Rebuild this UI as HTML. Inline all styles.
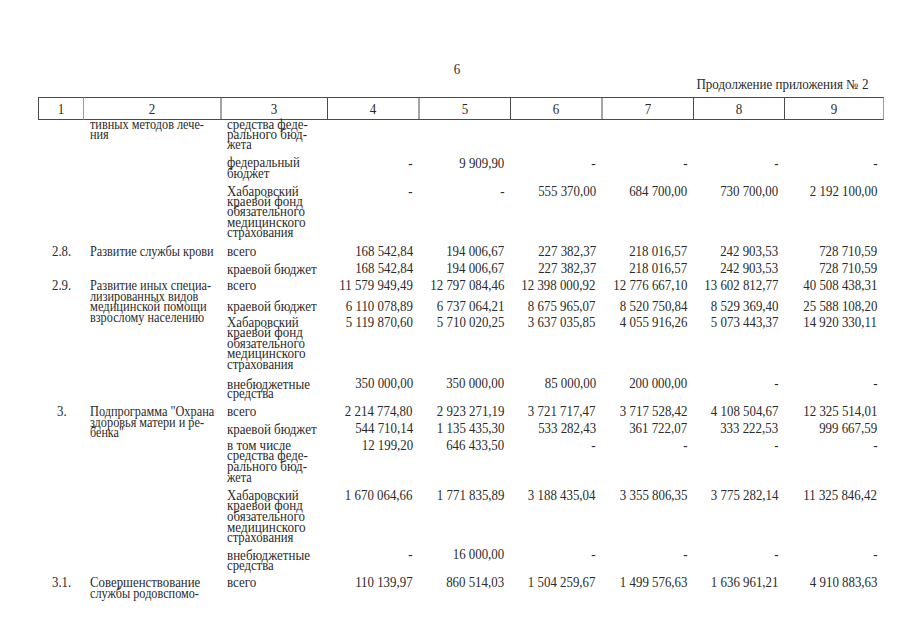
<!DOCTYPE html>
<html><head><meta charset="utf-8"><style>
html,body{margin:0;padding:0;background:#fff;}
body{width:905px;height:640px;position:relative;overflow:hidden;font-family:"Liberation Serif",serif;color:#2a2a2a;}
.t{position:absolute;white-space:nowrap;font-size:13.8px;line-height:normal;}
.l{transform-origin:0 0;}
.r{transform-origin:100% 0;}
.c{transform-origin:50% 0;}
.c2{transform:scaleX(0.888);}
.c3{transform:scaleX(0.93);}
.c3n{transform:scaleX(0.934);}
.num{transform:scaleX(0.933);}
.hdr{transform:scaleX(0.943);}
.c1{transform:scaleX(0.93);}
svg{position:absolute;left:0;top:0;}
</style></head><body>

<svg width="905" height="640">
<line x1="38" y1="97.5" x2="884" y2="97.5" stroke="#4a4a4a" stroke-width="1"/>
<line x1="38" y1="119.5" x2="884" y2="119.5" stroke="#4a4a4a" stroke-width="1"/>
<line x1="38.5" y1="97.5" x2="38.5" y2="119.5" stroke="#4a4a4a" stroke-width="1"/>
<line x1="83.5" y1="97.5" x2="83.5" y2="119.5" stroke="#9a9a9a" stroke-width="1"/>
<line x1="221" y1="97.5" x2="221" y2="119.5" stroke="#4a4a4a" stroke-width="1"/>
<line x1="327.5" y1="97.5" x2="327.5" y2="119.5" stroke="#4a4a4a" stroke-width="1"/>
<line x1="419" y1="97.5" x2="419" y2="119.5" stroke="#4a4a4a" stroke-width="1"/>
<line x1="510.5" y1="97.5" x2="510.5" y2="119.5" stroke="#4a4a4a" stroke-width="1"/>
<line x1="602" y1="97.5" x2="602" y2="119.5" stroke="#4a4a4a" stroke-width="1"/>
<line x1="693.5" y1="97.5" x2="693.5" y2="119.5" stroke="#4a4a4a" stroke-width="1"/>
<line x1="784.5" y1="97.5" x2="784.5" y2="119.5" stroke="#4a4a4a" stroke-width="1"/>
<line x1="883.5" y1="97.5" x2="883.5" y2="119.5" stroke="#9a9a9a" stroke-width="1"/>
</svg>
<div class="t c hdr" style="left:357.00px;width:200px;text-align:center;top:61.70px">6</div>
<div class="t r hdr" style="right:37.00px;top:77.30px">Продолжение приложения № 2</div>
<div class="t c hdr" style="left:-39.00px;width:200px;text-align:center;top:101.70px">1</div>
<div class="t c hdr" style="left:52.25px;width:200px;text-align:center;top:101.70px">2</div>
<div class="t c hdr" style="left:174.25px;width:200px;text-align:center;top:101.70px">3</div>
<div class="t c hdr" style="left:273.25px;width:200px;text-align:center;top:101.70px">4</div>
<div class="t c hdr" style="left:364.75px;width:200px;text-align:center;top:101.70px">5</div>
<div class="t c hdr" style="left:456.25px;width:200px;text-align:center;top:101.70px">6</div>
<div class="t c hdr" style="left:547.75px;width:200px;text-align:center;top:101.70px">7</div>
<div class="t c hdr" style="left:639.00px;width:200px;text-align:center;top:101.70px">8</div>
<div class="t c hdr" style="left:734.00px;width:200px;text-align:center;top:101.70px">9</div>
<div class="t l c2" style="left:90.30px;top:117.20px;transform:scaleX(0.8875);">тивных методов лече-</div>
<div class="t l c2" style="left:90.30px;top:127.40px;">ния</div>
<div class="t l c3" style="left:226.80px;top:117.20px;transform:scaleX(0.9314);">средства феде-</div>
<div class="t l c3" style="left:226.80px;top:127.20px;transform:scaleX(0.9464);">рального бюд-</div>
<div class="t l c3" style="left:226.80px;top:137.20px;transform:scaleX(0.8857);">жета</div>
<div class="t l c3" style="left:226.80px;top:155.00px;transform:scaleX(0.9282);">федеральный</div>
<div class="t l c3" style="left:226.80px;top:165.50px;transform:scaleX(0.9409);">бюджет</div>
<div class="t r num" style="right:492.20px;top:155.50px">-</div>
<div class="t r num" style="right:400.70px;top:155.50px">9 909,90</div>
<div class="t r num" style="right:309.20px;top:155.50px">-</div>
<div class="t r num" style="right:217.70px;top:155.50px">-</div>
<div class="t r num" style="right:126.70px;top:155.50px">-</div>
<div class="t r num" style="right:27.70px;top:155.50px">-</div>
<div class="t l c3" style="left:226.80px;top:183.50px;transform:scaleX(0.9303);">Хабаровский</div>
<div class="t l c3" style="left:226.80px;top:193.85px;transform:scaleX(0.9443);">краевой фонд</div>
<div class="t l c3" style="left:226.80px;top:204.20px;transform:scaleX(0.9386);">обязательного</div>
<div class="t l c3" style="left:226.80px;top:214.55px;transform:scaleX(0.9543);">медицинского</div>
<div class="t l c3" style="left:226.80px;top:224.90px;transform:scaleX(0.9208);">страхования</div>
<div class="t r num" style="right:492.20px;top:183.50px">-</div>
<div class="t r num" style="right:400.70px;top:183.50px">-</div>
<div class="t r num" style="right:309.20px;top:183.50px">555 370,00</div>
<div class="t r num" style="right:217.70px;top:183.50px">684 700,00</div>
<div class="t r num" style="right:126.70px;top:183.50px">730 700,00</div>
<div class="t r num" style="right:27.70px;top:183.50px">2 192 100,00</div>
<div class="t l c1" style="left:51.50px;top:244.20px;">2.8.</div>
<div class="t l c2" style="left:90.30px;top:244.20px;transform:scaleX(0.8870);">Развитие службы крови</div>
<div class="t l c3" style="left:226.80px;top:244.20px;transform:scaleX(0.9433);">всего</div>
<div class="t r num" style="right:492.20px;top:243.90px">168 542,84</div>
<div class="t r num" style="right:400.70px;top:243.90px">194 006,67</div>
<div class="t r num" style="right:309.20px;top:243.90px">227 382,37</div>
<div class="t r num" style="right:217.70px;top:243.90px">218 016,57</div>
<div class="t r num" style="right:126.70px;top:243.90px">242 903,53</div>
<div class="t r num" style="right:27.70px;top:243.90px">728 710,59</div>
<div class="t l c3n" style="left:226.80px;top:261.70px;transform:scaleX(0.9415);">краевой бюджет</div>
<div class="t r num" style="right:492.20px;top:261.20px">168 542,84</div>
<div class="t r num" style="right:400.70px;top:261.20px">194 006,67</div>
<div class="t r num" style="right:309.20px;top:261.20px">227 382,37</div>
<div class="t r num" style="right:217.70px;top:261.20px">218 016,57</div>
<div class="t r num" style="right:126.70px;top:261.20px">242 903,53</div>
<div class="t r num" style="right:27.70px;top:261.20px">728 710,59</div>
<div class="t l c1" style="left:51.50px;top:278.40px;">2.9.</div>
<div class="t l c2" style="left:90.30px;top:278.40px;transform:scaleX(0.8925);">Развитие иных специа-</div>
<div class="t l c2" style="left:90.30px;top:288.90px;transform:scaleX(0.8877);">лизированных видов</div>
<div class="t l c2" style="left:90.30px;top:299.40px;transform:scaleX(0.9055);">медицинской помощи</div>
<div class="t l c2" style="left:90.30px;top:309.90px;transform:scaleX(0.8859);">взрослому населению</div>
<div class="t l c3" style="left:226.80px;top:278.20px;transform:scaleX(0.9433);">всего</div>
<div class="t r num" style="right:492.20px;top:278.00px">11 579 949,49</div>
<div class="t r num" style="right:400.70px;top:278.00px">12 797 084,46</div>
<div class="t r num" style="right:309.20px;top:278.00px">12 398 000,92</div>
<div class="t r num" style="right:217.70px;top:278.00px">12 776 667,10</div>
<div class="t r num" style="right:126.70px;top:278.00px">13 602 812,77</div>
<div class="t r num" style="right:27.70px;top:278.00px">40 508 438,31</div>
<div class="t l c3n" style="left:226.80px;top:299.00px;transform:scaleX(0.9415);">краевой бюджет</div>
<div class="t r num" style="right:492.20px;top:298.50px">6 110 078,89</div>
<div class="t r num" style="right:400.70px;top:298.50px">6 737 064,21</div>
<div class="t r num" style="right:309.20px;top:298.50px">8 675 965,07</div>
<div class="t r num" style="right:217.70px;top:298.50px">8 520 750,84</div>
<div class="t r num" style="right:126.70px;top:298.50px">8 529 369,40</div>
<div class="t r num" style="right:27.70px;top:298.50px">25 588 108,20</div>
<div class="t l c3" style="left:226.80px;top:314.50px;transform:scaleX(0.9303);">Хабаровский</div>
<div class="t l c3" style="left:226.80px;top:325.10px;transform:scaleX(0.9443);">краевой фонд</div>
<div class="t l c3" style="left:226.80px;top:335.70px;transform:scaleX(0.9386);">обязательного</div>
<div class="t l c3" style="left:226.80px;top:346.30px;transform:scaleX(0.9543);">медицинского</div>
<div class="t l c3" style="left:226.80px;top:356.90px;transform:scaleX(0.9208);">страхования</div>
<div class="t r num" style="right:492.20px;top:314.50px">5 119 870,60</div>
<div class="t r num" style="right:400.70px;top:314.50px">5 710 020,25</div>
<div class="t r num" style="right:309.20px;top:314.50px">3 637 035,85</div>
<div class="t r num" style="right:217.70px;top:314.50px">4 055 916,26</div>
<div class="t r num" style="right:126.70px;top:314.50px">5 073 443,37</div>
<div class="t r num" style="right:27.70px;top:314.50px">14 920 330,11</div>
<div class="t l c3" style="left:226.80px;top:376.70px;transform:scaleX(0.9437);">внебюджетные</div>
<div class="t l c3" style="left:226.80px;top:386.30px;transform:scaleX(0.9220);">средства</div>
<div class="t r num" style="right:492.20px;top:376.00px">350 000,00</div>
<div class="t r num" style="right:400.70px;top:376.00px">350 000,00</div>
<div class="t r num" style="right:309.20px;top:376.00px">85 000,00</div>
<div class="t r num" style="right:217.70px;top:376.00px">200 000,00</div>
<div class="t r num" style="right:126.70px;top:376.00px">-</div>
<div class="t r num" style="right:27.70px;top:376.00px">-</div>
<div class="t l c1" style="left:56.50px;top:404.00px;">3.</div>
<div class="t l c2" style="left:90.30px;top:404.30px;transform:scaleX(0.8913);">Подпрограмма &quot;Охрана</div>
<div class="t l c2" style="left:90.30px;top:414.75px;transform:scaleX(0.8890);">здоровья матери и ре-</div>
<div class="t l c2" style="left:90.30px;top:425.20px;transform:scaleX(0.8784);">бенка&quot;</div>
<div class="t l c3" style="left:226.80px;top:403.90px;transform:scaleX(0.9433);">всего</div>
<div class="t r num" style="right:492.20px;top:403.70px">2 214 774,80</div>
<div class="t r num" style="right:400.70px;top:403.70px">2 923 271,19</div>
<div class="t r num" style="right:309.20px;top:403.70px">3 721 717,47</div>
<div class="t r num" style="right:217.70px;top:403.70px">3 717 528,42</div>
<div class="t r num" style="right:126.70px;top:403.70px">4 108 504,67</div>
<div class="t r num" style="right:27.70px;top:403.70px">12 325 514,01</div>
<div class="t l c3n" style="left:226.80px;top:421.50px;transform:scaleX(0.9415);">краевой бюджет</div>
<div class="t r num" style="right:492.20px;top:421.00px">544 710,14</div>
<div class="t r num" style="right:400.70px;top:421.00px">1 135 435,30</div>
<div class="t r num" style="right:309.20px;top:421.00px">533 282,43</div>
<div class="t r num" style="right:217.70px;top:421.00px">361 722,07</div>
<div class="t r num" style="right:126.70px;top:421.00px">333 222,53</div>
<div class="t r num" style="right:27.70px;top:421.00px">999 667,59</div>
<div class="t l c3" style="left:226.80px;top:437.80px;transform:scaleX(0.9418);">в том числе</div>
<div class="t l c3" style="left:226.80px;top:448.40px;transform:scaleX(0.9314);">средства феде-</div>
<div class="t l c3" style="left:226.80px;top:459.00px;transform:scaleX(0.9464);">рального бюд-</div>
<div class="t l c3" style="left:226.80px;top:469.60px;transform:scaleX(0.8857);">жета</div>
<div class="t r num" style="right:492.20px;top:437.80px">12 199,20</div>
<div class="t r num" style="right:400.70px;top:437.80px">646 433,50</div>
<div class="t r num" style="right:309.20px;top:437.80px">-</div>
<div class="t r num" style="right:217.70px;top:437.80px">-</div>
<div class="t r num" style="right:126.70px;top:437.80px">-</div>
<div class="t r num" style="right:27.70px;top:437.80px">-</div>
<div class="t l c3" style="left:226.80px;top:487.50px;transform:scaleX(0.9303);">Хабаровский</div>
<div class="t l c3" style="left:226.80px;top:498.20px;transform:scaleX(0.9443);">краевой фонд</div>
<div class="t l c3" style="left:226.80px;top:508.90px;transform:scaleX(0.9386);">обязательного</div>
<div class="t l c3" style="left:226.80px;top:519.60px;transform:scaleX(0.9543);">медицинского</div>
<div class="t l c3" style="left:226.80px;top:530.30px;transform:scaleX(0.9208);">страхования</div>
<div class="t r num" style="right:492.20px;top:487.50px">1 670 064,66</div>
<div class="t r num" style="right:400.70px;top:487.50px">1 771 835,89</div>
<div class="t r num" style="right:309.20px;top:487.50px">3 188 435,04</div>
<div class="t r num" style="right:217.70px;top:487.50px">3 355 806,35</div>
<div class="t r num" style="right:126.70px;top:487.50px">3 775 282,14</div>
<div class="t r num" style="right:27.70px;top:487.50px">11 325 846,42</div>
<div class="t l c3" style="left:226.80px;top:547.70px;transform:scaleX(0.9437);">внебюджетные</div>
<div class="t l c3" style="left:226.80px;top:557.70px;transform:scaleX(0.9220);">средства</div>
<div class="t r num" style="right:492.20px;top:547.30px">-</div>
<div class="t r num" style="right:400.70px;top:547.30px">16 000,00</div>
<div class="t r num" style="right:309.20px;top:547.30px">-</div>
<div class="t r num" style="right:217.70px;top:547.30px">-</div>
<div class="t r num" style="right:126.70px;top:547.30px">-</div>
<div class="t r num" style="right:27.70px;top:547.30px">-</div>
<div class="t l c1" style="left:51.50px;top:575.30px;">3.1.</div>
<div class="t l c2" style="left:90.30px;top:575.30px;transform:scaleX(0.9305);">Совершенствование</div>
<div class="t l c2" style="left:90.30px;top:585.90px;transform:scaleX(0.8862);">службы родовспомо-</div>
<div class="t l c3" style="left:226.80px;top:575.20px;transform:scaleX(0.9433);">всего</div>
<div class="t r num" style="right:492.20px;top:575.00px">110 139,97</div>
<div class="t r num" style="right:400.70px;top:575.00px">860 514,03</div>
<div class="t r num" style="right:309.20px;top:575.00px">1 504 259,67</div>
<div class="t r num" style="right:217.70px;top:575.00px">1 499 576,63</div>
<div class="t r num" style="right:126.70px;top:575.00px">1 636 961,21</div>
<div class="t r num" style="right:27.70px;top:575.00px">4 910 883,63</div>
</body></html>
